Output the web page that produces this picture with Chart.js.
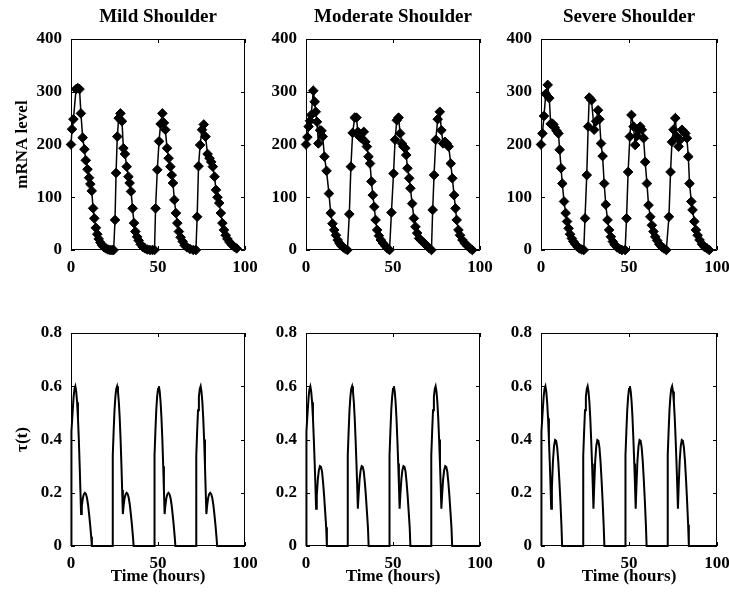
<!DOCTYPE html>
<html>
<head>
<meta charset="utf-8">
<title>Shoulder profiles</title>
<script src="https://cdn.jsdelivr.net/npm/chart.js@4"></script>
<style>
    body { margin: 0; background: #fff; }
    #grid { position: relative; width: 729px; height: 597px; }
    #grid canvas { position: absolute; }
</style>
</head>
<body>
<div id="grid">
    <canvas id="mrnaMild" width="260" height="290" style="left:0;top:0"></canvas>
    <canvas id="mrnaModerate" width="235" height="290" style="left:260px;top:0"></canvas>
    <canvas id="mrnaSevere" width="234" height="290" style="left:495px;top:0"></canvas>
    <canvas id="tauMildChart" width="260" height="307" style="left:0;top:290px"></canvas>
    <canvas id="tauModerateChart" width="235" height="307" style="left:260px;top:290px"></canvas>
    <canvas id="tauSevereChart" width="234" height="307" style="left:495px;top:290px"></canvas>
</div>
<script>
// Panel titles
const panelTitles = ['Mild Shoulder', 'Moderate Shoulder', 'Severe Shoulder'];

// Axis ticks
const timeTicks = [0, 50, 100];
const mrnaTicks = [0, 100, 200, 300, 400];
const tauTicks = [0, 0.2, 0.4, 0.6, 0.8];

// mRNA level, mild shoulder (hours / level)
const mildTime = [
    0, 0.6, 1.4, 2.9, 3.9, 4.9, 5.7, 6.7, 7.7, 8.5, 9.5, 10.4, 11.1, 11.9, 12.7, 13.4, 14.3, 15.1, 15.9,
    16.9, 17.9, 19, 20.1, 21.2, 22.4, 23.6, 24.5,
    25.3, 25.9, 26.6, 27.4, 28.4, 29.3, 30.1, 31, 32, 33, 33.7, 34.5, 35.4, 36.2, 37, 38, 38.9, 40,
    41.2, 42.5, 43.9, 45.4, 46.8, 48,
    48.6, 49.6, 50.6, 51.5, 52.5, 53.4, 54.2, 55.2, 56.1, 57.1, 57.9, 58.6, 59.4, 60.3, 61.1, 62, 63,
    64.2, 65.3, 66.7, 68.4, 70.3, 71.8,
    72.5, 73.3, 74.2, 75.3, 76.3, 77.3, 78.5, 79.6, 80.6, 81.5, 82.5, 83.3, 84.2, 85.2, 86.1, 87, 87.9,
    88.9, 89.9, 91.1, 92.4, 93.8, 95.2
];
const mildLevel = [
    200, 229, 248, 305, 307, 305, 259, 213, 191, 170, 153, 137, 125, 112, 79, 60, 42, 30, 21,
    14, 9, 5, 3, 1, 0, 0, 0,
    57, 146, 215, 250, 259, 244, 193, 182, 158, 139, 127, 111, 79, 51, 35, 25, 18, 11,
    6, 3, 1, 0, 0, 0,
    79, 152, 206, 239, 259, 241, 228, 193, 174, 158, 142, 127, 95, 70, 51, 35, 24,
    16, 9, 5, 2, 0, 0,
    63, 159, 199, 228, 238, 215, 182, 174, 167, 158, 139, 114, 100, 89, 70, 51, 38,
    28, 21, 15, 10, 6, 3
];

// mRNA level, moderate shoulder
const moderateTime = [
    0, 0.8, 1.5, 2.3, 3, 4.2, 5, 5.6, 6.3, 7.1, 8.1, 8.9, 9.6, 10.6, 11.8, 13.2, 14.2, 15.2, 16.2,
    17.2, 18.2, 19.2, 20.3, 21.4, 22.6, 23.8,
    24.9, 25.8, 26.8, 28, 29, 29.8, 30.7, 31.9, 33.2, 34.1, 35, 35.9, 36.8, 37.6, 38.4, 39.2, 40,
    40.9, 41.9, 43, 44.2, 45.5, 46.8, 48,
    49.1, 50.3, 51.2, 52.2, 53.2, 54.1, 55.1, 56, 57, 57.6, 58.3, 59.3, 60, 61, 62, 62.9, 63.9,
    65, 66.3, 67.9, 69.4, 70.7, 72.1,
    72.8, 73.6, 74.6, 75.7, 76.9, 77.8, 78.8, 79.9, 80.9, 82, 83.2, 84.1, 85.1, 85.9, 86.6, 87.6,
    88.5, 89.9, 91.2, 92.7, 94.3, 95.6
];
const moderateLevel = [
    200, 214, 234, 245, 256, 302, 281, 262, 243, 202, 227, 226, 215, 177, 150, 107, 70, 50, 38,
    28, 19, 13, 8, 5, 2, 0,
    68, 158, 222, 251, 251, 224, 215, 212, 224, 205, 196, 177, 164, 130, 104, 82, 57,
    38, 27, 19, 13, 8, 3, 0,
    71, 145, 209, 246, 251, 221, 202, 196, 193, 180, 155, 136, 117, 88, 60, 44, 32,
    22, 18, 13, 8, 4, 0,
    76, 142, 209, 248, 262, 227, 202, 205, 202, 196, 164, 136, 104, 79, 57, 38,
    28, 19, 13, 8, 3, 0
];

// mRNA level, severe shoulder
const severeTime = [
    0, 0.8, 1.7, 2.7, 3.8, 4.7, 5.5, 6.2, 7, 7.8, 8.8, 9.9, 10.6, 11.4, 12.1, 13.1, 14, 14.8, 15.7,
    16.5, 17.5, 18.4, 19.5, 20.7, 21.8, 23.1, 24.3,
    25, 26, 26.8, 27.4, 28.7, 30.2, 31.3, 32.4, 33.2, 34.1, 35, 35.9, 36.8, 37.8, 38.7, 39.7, 40.8,
    41.9, 43.2, 44.6, 46, 47.8,
    48.6, 49.5, 50.5, 51.4, 52.6, 53.5, 54.5, 55.4, 56.4, 57.3, 58.3, 59.2, 60.2, 61.1, 62.1, 63,
    63.9, 64.9, 66, 67.2, 68.5, 69.8, 71.2,
    72.7, 73.6, 74.4, 75.3, 76.3, 77.2, 78.2, 79.1, 80.1, 81, 82, 82.9, 83.7, 84.4, 85.4, 86.1, 87.1,
    88, 89, 90.1, 91.5, 92.8, 94.3, 95.6
];
const severeLevel = [
    200, 221, 254, 296, 313, 288, 239, 240, 238, 232, 226, 221, 190, 155, 126, 92, 70, 54, 41,
    30, 22, 16, 11, 6, 3, 1, 0,
    60, 142, 234, 289, 284, 228, 244, 265, 248, 202, 178, 126, 86, 57, 38, 25, 16,
    10, 5, 2, 0, 0,
    60, 148, 215, 256, 234, 199, 216, 228, 234, 228, 212, 167, 126, 85, 63, 47,
    35, 25, 18, 11, 6, 3, 0,
    63, 148, 205, 228, 250, 215, 196, 209, 228, 224, 221, 212, 177, 126, 92, 76, 54,
    38, 28, 19, 11, 6, 3, 0
];

// tau(t) sampling times, shared by the three shoulder profiles
const tauTime = [
    0, 0, 0.5, 1, 1.5, 2, 2.5, 3, 3.5, 4, 4.5, 5, 5.4, 5.8, 6.2, 6.8, 7.4, 8, 8.6, 9.2, 9.8, 10.4, 11, 11.6, 12,
    24, 24, 24.5, 25, 25.5, 26, 26.5, 27, 27.5, 28, 28.5, 29, 29.4, 29.8, 30.2, 30.8, 31.4, 32, 32.6, 33.2, 33.8, 34.4, 35, 35.6, 36,
    48, 48, 48.5, 49, 49.5, 50, 50.5, 51, 51.5, 52, 52.5, 53, 53.4, 53.8, 54.2, 54.8, 55.4, 56, 56.6, 57.2, 57.8, 58.4, 59, 59.6, 60,
    72, 72, 72.5, 73, 73.5, 74, 74.5, 75, 75.5, 76, 76.5, 77, 77.4, 77.8, 78.2, 78.8, 79.4, 80, 80.6, 81.2, 81.8, 82.4, 83, 83.6, 84,
    100
];
const tauMild = [
    0, 0.34, 0.43, 0.51, 0.56, 0.59, 0.6, 0.58, 0.54, 0.48, 0.4, 0.3, 0.21, 0.12, 0.15, 0.18, 0.195, 0.2, 0.195, 0.18, 0.155, 0.12, 0.08, 0.035, 0,
    0, 0.34, 0.43, 0.51, 0.56, 0.59, 0.6, 0.58, 0.54, 0.48, 0.4, 0.3, 0.21, 0.12, 0.15, 0.18, 0.195, 0.2, 0.195, 0.18, 0.155, 0.12, 0.08, 0.035, 0,
    0, 0.34, 0.43, 0.51, 0.56, 0.59, 0.6, 0.58, 0.54, 0.48, 0.4, 0.3, 0.21, 0.12, 0.15, 0.18, 0.195, 0.2, 0.195, 0.18, 0.155, 0.12, 0.08, 0.035, 0,
    0, 0.34, 0.43, 0.51, 0.56, 0.59, 0.6, 0.58, 0.54, 0.48, 0.4, 0.3, 0.21, 0.12, 0.15, 0.18, 0.195, 0.2, 0.195, 0.18, 0.155, 0.12, 0.08, 0.035, 0,
    0
];
const tauModerate = [
    0, 0.34, 0.43, 0.51, 0.56, 0.59, 0.6, 0.58, 0.54, 0.48, 0.4, 0.31, 0.23, 0.14, 0.19, 0.25, 0.285, 0.3, 0.297, 0.28, 0.24, 0.19, 0.13, 0.07, 0,
    0, 0.34, 0.43, 0.51, 0.56, 0.59, 0.6, 0.58, 0.54, 0.48, 0.4, 0.31, 0.23, 0.14, 0.19, 0.25, 0.285, 0.3, 0.297, 0.28, 0.24, 0.19, 0.13, 0.07, 0,
    0, 0.34, 0.43, 0.51, 0.56, 0.59, 0.6, 0.58, 0.54, 0.48, 0.4, 0.31, 0.23, 0.14, 0.19, 0.25, 0.285, 0.3, 0.297, 0.28, 0.24, 0.19, 0.13, 0.07, 0,
    0, 0.34, 0.43, 0.51, 0.56, 0.59, 0.6, 0.58, 0.54, 0.48, 0.4, 0.31, 0.23, 0.14, 0.19, 0.25, 0.285, 0.3, 0.297, 0.28, 0.24, 0.19, 0.13, 0.07, 0,
    0
];
const tauSevere = [
    0, 0.34, 0.43, 0.51, 0.56, 0.59, 0.6, 0.58, 0.54, 0.48, 0.4, 0.31, 0.23, 0.14, 0.22, 0.32, 0.375, 0.398, 0.395, 0.37, 0.32, 0.25, 0.17, 0.08, 0,
    0, 0.34, 0.43, 0.51, 0.56, 0.59, 0.6, 0.58, 0.54, 0.48, 0.4, 0.31, 0.23, 0.14, 0.22, 0.32, 0.375, 0.398, 0.395, 0.37, 0.32, 0.25, 0.17, 0.08, 0,
    0, 0.34, 0.43, 0.51, 0.56, 0.59, 0.6, 0.58, 0.54, 0.48, 0.4, 0.31, 0.23, 0.14, 0.22, 0.32, 0.375, 0.398, 0.395, 0.37, 0.32, 0.25, 0.17, 0.08, 0,
    0, 0.34, 0.43, 0.51, 0.56, 0.59, 0.6, 0.58, 0.54, 0.48, 0.4, 0.31, 0.23, 0.14, 0.22, 0.32, 0.375, 0.398, 0.395, 0.37, 0.32, 0.25, 0.17, 0.08, 0,
    0
];

Chart.defaults.color = '#000';
Chart.defaults.font.family = '"Liberation Serif", "Times New Roman", serif';
Chart.defaults.font.size = 16;
Chart.defaults.font.weight = 'bold';

const serifFamily = '"Liberation Serif", "Times New Roman", serif';
const tickFont = { family: serifFamily, size: 17, weight: 'bold' };
const labelFont = { family: serifFamily, size: 17, weight: 'bold' };
const titleFont = { family: serifFamily, size: 19, weight: 'bold' };

function toPoints(xs, ys) {
    return xs.map((x, i) => ({ x: x, y: ys[i] }));
}

// matlab-like box: full frame with short inward ticks on every side
const boxAxes = {
    id: 'boxAxes',
    afterDatasetsDraw(chart, args, opts) {
        const { ctx, chartArea: a, scales: { x, y } } = chart;
        const len = 4;
        ctx.save();
        ctx.strokeStyle = '#000';
        ctx.lineWidth = 1;
        ctx.beginPath();
        ctx.rect(a.left + 0.5, a.top + 0.5, a.width - 1, a.height - 1);
        opts.xTicks.forEach(v => {
            const px = Math.round(x.getPixelForValue(v)) + 0.5;
            ctx.moveTo(px, a.bottom);
            ctx.lineTo(px, a.bottom - len);
            ctx.moveTo(px, a.top);
            ctx.lineTo(px, a.top + len);
        });
        opts.yTicks.forEach(v => {
            const py = Math.round(y.getPixelForValue(v)) + 0.5;
            ctx.moveTo(a.left, py);
            ctx.lineTo(a.left + len, py);
            ctx.moveTo(a.right, py);
            ctx.lineTo(a.right - len, py);
        });
        ctx.stroke();
        ctx.restore();
    }
};

function makePanel(canvasId, cfg) {
    const ctx = document.getElementById(canvasId).getContext('2d');
    return new Chart(ctx, {
        type: 'line',
        data: {
            datasets: [{
                data: toPoints(cfg.xs, cfg.ys),
                borderColor: '#000',
                backgroundColor: '#000',
                borderWidth: cfg.markers ? 1.5 : 2,
                pointStyle: 'rectRot',
                pointRadius: cfg.markers ? 4.8 : 0,
                pointBorderWidth: 1,
                tension: 0,
                clip: false
            }]
        },
        options: {
            responsive: false,
            animation: false,
            devicePixelRatio: 1,
            layout: { padding: cfg.padding },
            plugins: {
                legend: { display: false },
                tooltip: { enabled: false },
                title: {
                    display: !!cfg.title,
                    text: cfg.title || '',
                    fullSize: false,
                    font: titleFont,
                    padding: { top: 6, bottom: 10.2 }
                },
                boxAxes: { xTicks: timeTicks, yTicks: cfg.yTicks }
            },
            scales: {
                x: {
                    type: 'linear',
                    min: 0,
                    max: 100,
                    grid: { display: false, drawTicks: false },
                    border: { display: false },
                    ticks: { stepSize: 50, padding: 7, font: tickFont, maxRotation: 0 },
                    title: {
                        display: !!cfg.xTitle,
                        text: cfg.xTitle || '',
                        font: labelFont,
                        padding: { top: 0, bottom: 10 }
                    },
                    afterFit(scale) {
                        scale.height = cfg.xHeight;
                        scale.paddingLeft = 0;
                        scale.paddingRight = 0;
                    }
                },
                y: {
                    type: 'linear',
                    min: cfg.yTicks[0],
                    max: cfg.yTicks[cfg.yTicks.length - 1],
                    grid: { display: false, drawTicks: false },
                    border: { display: false },
                    ticks: { stepSize: cfg.yTicks[1] - cfg.yTicks[0], padding: 9, font: tickFont },
                    title: {
                        display: !!cfg.yTitle,
                        text: cfg.yTitle || '',
                        font: labelFont,
                        padding: { top: 4, bottom: 4 }
                    },
                    afterFit(scale) {
                        scale.width = cfg.yWidth;
                        scale.paddingTop = 0;
                        scale.paddingBottom = 0;
                    }
                }
            }
        },
        plugins: [boxAxes]
    });
}

// top row: mRNA level with diamond markers
makePanel('mrnaMild', {
    xs: mildTime, ys: mildLevel, markers: true, title: panelTitles[0],
    yTitle: 'mRNA level', yTicks: mrnaTicks, yWidth: 63, xHeight: 40,
    padding: { left: 8, right: 15, top: 0, bottom: 0 }
});
makePanel('mrnaModerate', {
    xs: moderateTime, ys: moderateLevel, markers: true, title: panelTitles[1],
    yTicks: mrnaTicks, yWidth: 46, xHeight: 40,
    padding: { left: 0, right: 15, top: 0, bottom: 0 }
});
makePanel('mrnaSevere', {
    xs: severeTime, ys: severeLevel, markers: true, title: panelTitles[2],
    yTicks: mrnaTicks, yWidth: 46, xHeight: 40,
    padding: { left: 0, right: 12, top: 0, bottom: 0 }
});

// bottom row: tau(t)
makePanel('tauMildChart', {
    xs: tauTime, ys: tauMild, markers: false, xTitle: 'Time (hours)',
    yTitle: 'τ(t)', yTicks: tauTicks, yWidth: 63, xHeight: 51,
    padding: { left: 8, right: 15, top: 43, bottom: 0 }
});
makePanel('tauModerateChart', {
    xs: tauTime, ys: tauModerate, markers: false, xTitle: 'Time (hours)',
    yTicks: tauTicks, yWidth: 46, xHeight: 51,
    padding: { left: 0, right: 15, top: 43, bottom: 0 }
});
makePanel('tauSevereChart', {
    xs: tauTime, ys: tauSevere, markers: false, xTitle: 'Time (hours)',
    yTicks: tauTicks, yWidth: 46, xHeight: 51,
    padding: { left: 0, right: 12, top: 43, bottom: 0 }
});
</script>
</body>
</html>
